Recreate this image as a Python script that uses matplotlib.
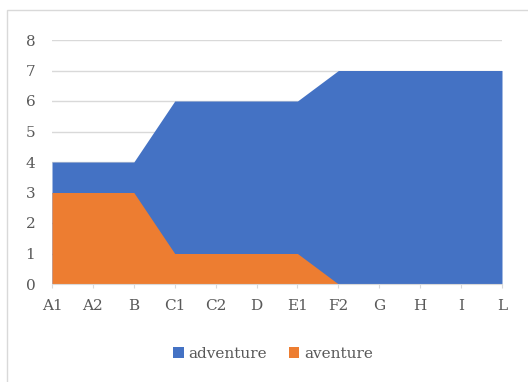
import numpy as np
import matplotlib.pyplot as plt
from matplotlib.patches import Rectangle

# categorias y valores
categorias = ['A1', 'A2', 'B', 'C1', 'C2', 'D', 'E1', 'F2', 'G', 'H', 'I', 'L']
adventure = [4, 4, 4, 6, 6, 6, 6, 7, 7, 7, 7, 7]
aventure = [3, 3, 3, 1, 1, 1, 1, 0, 0, 0, 0, 0]

azul = '#4472C4'
naranja = '#ED7D31'
gris_texto = '#595959'

plt.rcParams['font.family'] = ['DejaVu Serif']
plt.rcParams['font.size'] = 11

fig = plt.figure(figsize=(5.28, 3.82), dpi=100)
W, H = 528, 382

# borde del area del grafico (recortado a la derecha y abajo)
fig.patches.append(Rectangle((7 / W, -0.1), 1.2, 1.1 - 10 / H,
                             transform=fig.transFigure, fill=False,
                             edgecolor='#D9D9D9', linewidth=1.0))

ax = fig.add_axes([52 / W, 98 / H, 450 / W, 244 / H])

x = np.arange(len(categorias))
ax.fill_between(x, 0, adventure, color=azul, linewidth=0, label='adventure', zorder=2)
ax.fill_between(x, 0, aventure, color=naranja, linewidth=0, label='aventure', zorder=3)

ax.set_xlim(0, len(categorias) - 1)
ax.set_ylim(0, 8)
ax.set_yticks(range(0, 9))
ax.set_xticks(x)
ax.set_xticklabels(categorias)

ax.grid(axis='y', color='#D9D9D9', linewidth=1.0, zorder=0)
ax.set_axisbelow(True)
for s in ['top', 'right', 'left']:
    ax.spines[s].set_visible(False)
ax.spines['bottom'].set_color('#D9D9D9')
ax.spines['bottom'].set_zorder(4)
ax.tick_params(axis='y', length=0, pad=12, labelcolor=gris_texto)
ax.tick_params(axis='x', length=3, color='#D9D9D9', pad=8, labelcolor=gris_texto)

leg = fig.legend(loc='center', bbox_to_anchor=(273 / W, 1 - 354 / H), ncol=2,
                 frameon=False, handlelength=0.7, handleheight=0.7,
                 handletextpad=0.3, columnspacing=1.4)
for t in leg.get_texts():
    t.set_color(gris_texto)

fig.savefig('out.png', dpi=100)
